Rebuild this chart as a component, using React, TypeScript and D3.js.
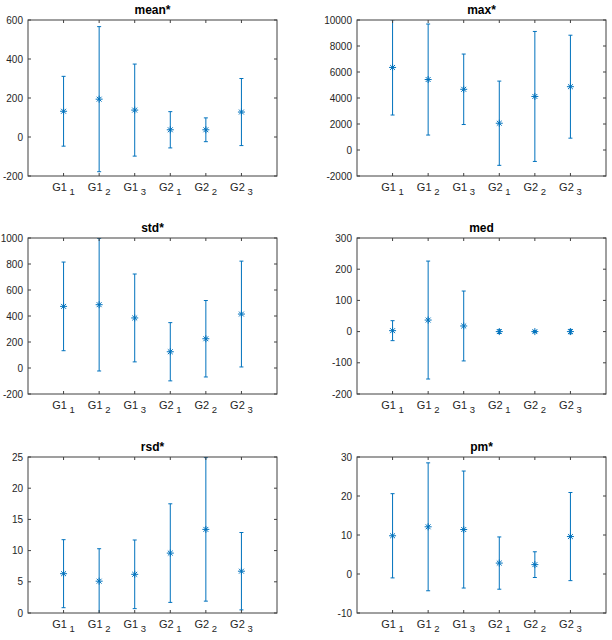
import React from 'react';
import { scaleLinear } from 'd3';

// group labels: base text + subscript
const groupBase = ['G1', 'G1', 'G1', 'G2', 'G2', 'G2'];
const groupSub = ['1', '2', '3', '1', '2', '3'];

const titles = ['mean*', 'max*', 'std*', 'med', 'rsd*', 'pm*'];

// centre values and half error widths
const meanVals = [132, 194, 138, 37, 37, 128];
const meanErr = [179, 372, 236, 93, 61, 172];
const maxVals = [6350, 5420, 4670, 2060, 4120, 4870];
const maxErr = [3660, 4270, 2710, 3240, 5000, 3960];
const stdVals = [474, 487, 385, 125, 225, 415];
const stdErr = [341, 510, 338, 224, 294, 407];
const medVals = [3, 37, 18, 0, 0, 0];
const medErr = [32, 189, 112, 6, 3, 7];
const rsdVals = [6.3, 5.1, 6.2, 9.6, 13.4, 6.7];
const rsdErr = [5.45, 5.2, 5.5, 7.9, 11.5, 6.2];
const pmVals = [9.8, 12.1, 11.4, 2.8, 2.4, 9.6];
const pmErr = [10.8, 16.4, 15.0, 6.7, 3.3, 11.3];

const meanTicks = [-200, 0, 200, 400, 600];
const maxTicks = [-2000, 0, 2000, 4000, 6000, 8000, 10000];
const stdTicks = [-200, 0, 200, 400, 600, 800, 1000];
const medTicks = [-200, -100, 0, 100, 200, 300];
const rsdTicks = [0, 5, 10, 15, 20, 25];
const pmTicks = [-10, 0, 10, 20, 30];

const panelVals = [meanVals, maxVals, stdVals, medVals, rsdVals, pmVals];
const panelErr = [meanErr, maxErr, stdErr, medErr, rsdErr, pmErr];
const panelTicks = [meanTicks, maxTicks, stdTicks, medTicks, rsdTicks, pmTicks];

const colLeft = [28, 357];
const rowTop = [20, 238, 457];
const plotW = 249;
const plotH = 156;

const BLUE = '#0072BD';
const AXIS = '#404040';
const FONT = 'Arial, "Liberation Sans", sans-serif';

const Panel = ({ idx }: { idx: number }) => {
  const left = colLeft[idx % 2];
  const top = rowTop[Math.floor(idx / 2)];
  const ticks = panelTicks[idx];
  const vals = panelVals[idx];
  const errs = panelErr[idx];

  const x = scaleLinear().domain([0, 7]).range([0, plotW]);
  const y = scaleLinear()
    .domain([ticks[0], ticks[ticks.length - 1]])
    .range([plotH, 0]);

  const clipId = `clip-${idx}`;
  const tickLen = 3;

  return (
    <g transform={`translate(${left},${top})`}>
      <defs>
        <clipPath id={clipId}>
          <rect x={0} y={0} width={plotW} height={plotH} />
        </clipPath>
      </defs>
      <rect x={0} y={0} width={plotW} height={plotH} fill="white" />

      {/* error bars */}
      <g clipPath={`url(#${clipId})`}>
        {vals.map((v, i) => {
          const cx = x(i + 1);
          const yTop = y(v + errs[i]);
          const yBot = y(v - errs[i]);
          const cy = y(v);
          const r = 3.5;
          return (
            <g key={i} stroke={BLUE} strokeWidth={1} fill="none">
              <line x1={cx} x2={cx} y1={yTop} y2={yBot} />
              <line x1={cx - 2} x2={cx + 2} y1={yTop} y2={yTop} />
              <line x1={cx - 2} x2={cx + 2} y1={yBot} y2={yBot} />
              <line x1={cx - r} x2={cx + r} y1={cy} y2={cy} />
              <line x1={cx} x2={cx} y1={cy - r} y2={cy + r} />
              <line x1={cx - r * 0.7} x2={cx + r * 0.7} y1={cy - r * 0.7} y2={cy + r * 0.7} />
              <line x1={cx - r * 0.7} x2={cx + r * 0.7} y1={cy + r * 0.7} y2={cy - r * 0.7} />
            </g>
          );
        })}
      </g>

      {/* box */}
      <rect x={0} y={0} width={plotW} height={plotH} fill="none" stroke={AXIS} strokeWidth={1} />

      {/* y ticks */}
      {ticks.map((t) => (
        <g key={t}>
          <line x1={0} x2={tickLen} y1={y(t)} y2={y(t)} stroke={AXIS} />
          <line x1={plotW - tickLen} x2={plotW} y1={y(t)} y2={y(t)} stroke={AXIS} />
          <text
            x={-5}
            y={y(t)}
            dy="0.35em"
            textAnchor="end"
            fontSize={10}
            fontFamily={FONT}
            fill="#262626"
          >
            {t}
          </text>
        </g>
      ))}

      {/* x ticks */}
      {groupBase.map((g, i) => (
        <g key={i}>
          <line x1={x(i + 1)} x2={x(i + 1)} y1={plotH} y2={plotH - tickLen} stroke={AXIS} />
          <line x1={x(i + 1)} x2={x(i + 1)} y1={0} y2={tickLen} stroke={AXIS} />
          <text
            x={x(i + 1)}
            y={plotH + 15}
            textAnchor="middle"
            fontSize={11}
            fontFamily={FONT}
            fill="#262626"
          >
            {g}
            <tspan fontSize={9.5} dy={4}>
              {' '}
              {groupSub[i]}
            </tspan>
          </text>
        </g>
      ))}

      <text
        x={plotW / 2}
        y={-6}
        textAnchor="middle"
        fontSize={12}
        fontWeight="bold"
        fontFamily={FONT}
        fill="black"
      >
        {titles[idx]}
      </text>
    </g>
  );
};

export default function App() {
  return (
    <svg
      width={612}
      height={640}
      style={{ position: 'absolute', left: 0, top: 0, background: 'white' }}
    >
      <rect width={612} height={640} fill="white" />
      {titles.map((_, i) => (
        <Panel key={i} idx={i} />
      ))}
    </svg>
  );
}
